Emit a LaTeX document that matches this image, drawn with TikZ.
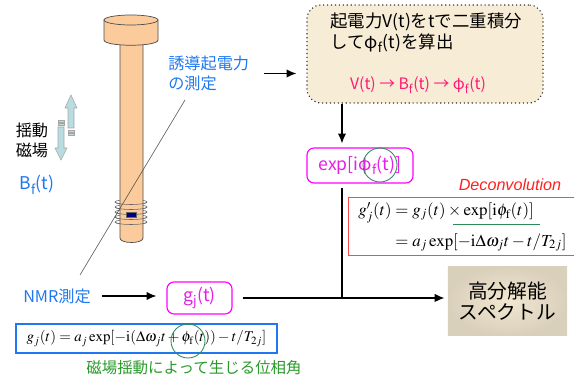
\documentclass[tikz,border=0pt]{standalone}
\usepackage{mathptmx}
\usepackage[no-math]{fontspec}
\setmainfont{Noto Sans CJK JP}
\newfontfamily\latinsans{Liberation Sans}
\usetikzlibrary{arrows.meta, positioning}

\definecolor{peach}{HTML}{FCCB9C}
\definecolor{swingblue}{HTML}{B8DDE0}
\definecolor{txtblue}{HTML}{1F78F0}
\definecolor{magline}{HTML}{FF00FF}
\definecolor{magtxt}{HTML}{E61EE6}
\definecolor{chainpink}{HTML}{FF1A75}
\definecolor{phasegreen}{HTML}{2A9A2A}
\definecolor{ringgreen}{HTML}{2E8B57}
\definecolor{decred}{HTML}{FF2020}
\definecolor{boxred}{HTML}{FF4848}
\definecolor{calcfill}{HTML}{F7ECD5}

\begin{document}
\begin{tikzpicture}[x=0.025cm, y=-0.025cm, >={Latex[length=7pt,width=6pt]},
    txt/.style={font=\fontsize{11.5}{14.2}\selectfont, inner sep=0pt},
    bluetxt/.style={txt, text=txtblue},
    rod/.style={fill=peach, draw=black!70, line width=0.5pt},
    coil/.style={draw=black!60, line width=0.4pt},
    swing/.style={fill=swingblue, draw=black!35, line width=0.4pt},
    magbox/.style={draw=magline, rounded corners=5pt, line width=0.8pt, fill=white,
        text=magtxt, font=\fontsize{12.5}{15}\selectfont},
    formbox/.style={line width=0.9pt, fill=white, inner sep=2pt},
    ring/.style={draw=ringgreen, line width=0.6pt},
    flow/.style={->, line width=1pt}]
    \useasboundingbox (0,0) rectangle (574,379);

    % sample rod with pick-up coil
    \foreach \y in {202,207,212,217,222}
        \draw[coil] (131,\y) ellipse[x radius=16, y radius=2.5];
    \filldraw[rod] (120,42) -- (120,238) .. controls (120,244) and (143,244) .. (143,238) -- (143,42);
    \foreach \y in {202,207,212,217,222}
        \draw[coil] (147,\y) arc[start angle=0, end angle=180, x radius=16, y radius=2.5];
    \filldraw[fill=blue!50!black, draw=black!60, line width=0.3pt] (126,212) rectangle (136,217);
    \filldraw[rod] (104,20) -- (104,40) .. controls (104,47) and (158,47) .. (158,40) -- (158,20) -- cycle;
    \filldraw[rod] (131,20) ellipse[x radius=27, y radius=5];

    % field swing arrows
    \filldraw[swing] (71,95) -- (77,108) -- (74,108) -- (74,128) -- (68,128) -- (68,108) -- (65,108) -- cycle;
    \filldraw[swing] (68,130) rectangle (74,132);
    \filldraw[swing] (68,133.5) rectangle (74,135.5);
    \filldraw[swing] (58,120) rectangle (64,122);
    \filldraw[swing] (58,123.5) rectangle (64,125.5);
    \filldraw[swing] (58,127) -- (64,127) -- (64,148) -- (67,148) -- (61,160) -- (55,148) -- (58,148) -- cycle;

    \node[txt, align=center] (swingtxt) at (32,140) {揺動\\磁場};
    \node[bluetxt, font=\fontsize{12.5}{15}\selectfont] (bf) at (37,185) {B\textsubscript{f}(t)};

    % EMF measurement and integration
    \node[bluetxt, align=left, anchor=west] (ind) at (168,73.5) {誘導起電力\\の測定};
    \node[draw=black!80, dotted, line width=0.8pt, fill=calcfill, rounded corners=10pt,
        minimum width=5.9cm, minimum height=2.45cm] (calc) at (425,54) {};
    \node[txt, align=left, anchor=west, font=\fontsize{12.4}{14.4}\selectfont] (calctxt) at (330,33)
        {起電力V(t)をtで二重積分\\してφ\textsubscript{f}(t)を算出};
    \node[txt, text=chainpink, font=\fontsize{11.2}{14}\selectfont] (chain) at (418,85)
        {V(t) → B\textsubscript{f}(t) → φ\textsubscript{f}(t)};
    \node[magbox, minimum width=2.65cm, minimum height=0.875cm] (expbox) at (360,165.5)
        {exp[iφ\textsubscript{f}(t)]};
    \draw[ring] (380,165) circle[radius=17];

    % deconvolution
    \node[txt, text=decred, font=\latinsans\itshape\fontsize{11.5}{13}\selectfont] (deconv) at (510,185) {Deconvolution};
    \node[formbox, draw=boxred, font=\fontsize{12}{15}\selectfont,
        minimum width=5.275cm, minimum height=1.325cm] (deconvf) at (462.5,226.5)
        {$\begin{array}{r@{\;}l}
            g'_j(t) &= g_j(t)\times\exp[\mathrm{i}\phi_{\mathrm f}(t)]\\[7pt]
                    &= a_j\exp[-\mathrm{i}\Delta\omega_j t-t/T_{2j}]
          \end{array}$};
    \draw[ringgreen, line width=1pt] (453,224.5) -- (540,224.5);

    % NMR signal
    \node[bluetxt] (nmr) at (57,296) {NMR測定};
    \node[magbox, minimum width=1.625cm, minimum height=0.8cm] (gbox) at (199.5,298) {g\textsubscript{j}(t)};
    \node[txt, align=center, font=\fontsize{14}{15}\selectfont, minimum width=2.975cm, minimum height=1.7cm,
        inner color=black!2!calcfill, outer color=black!12!calcfill] (spec) at (507.5,301) {高分解能\\スペクトル};
    \node[formbox, draw=txtblue, font=\fontsize{10.6}{13}\selectfont,
        minimum width=6.525cm, minimum height=0.725cm] (phase) at (146.5,338.5)
        {$g_j(t)=a_j\exp[-\mathrm{i}(\Delta\omega_j t+\phi_{\mathrm f}(t))-t/T_{2j}]$};
    \draw[ring] (188,341) circle[radius=17];
    \node[txt, text=phasegreen, font=\fontsize{11}{13}\selectfont] (phasetxt) at (194,368) {磁場揺動によって生じる位相角};

    % connectors
    \coordinate (leadA) at (80,275);
    \coordinate (leadB) at (185,100);
    \coordinate (down) at (342,0);
    \draw[black!70, line width=0.4pt] (leadA) -- (leadB);
    \draw[flow, shorten <=0.375cm, shorten >=0.25cm] (ind.east) -- (ind.east -| calc.west);
    \draw[flow, shorten >=0.1cm] (calc.south -| down) -- (expbox.north -| down);
    \draw[line width=1pt, shorten <=0.12cm] (expbox.south -| down) -- (gbox.east -| down);
    \draw[flow, shorten <=0.27cm, shorten >=0.25cm] (nmr.east) -- (gbox.west |- nmr.east);
    \draw[flow, shorten <=0.25cm, shorten >=0.08cm] (gbox.east) -- (gbox.east -| spec.west);
\end{tikzpicture}
\end{document}
